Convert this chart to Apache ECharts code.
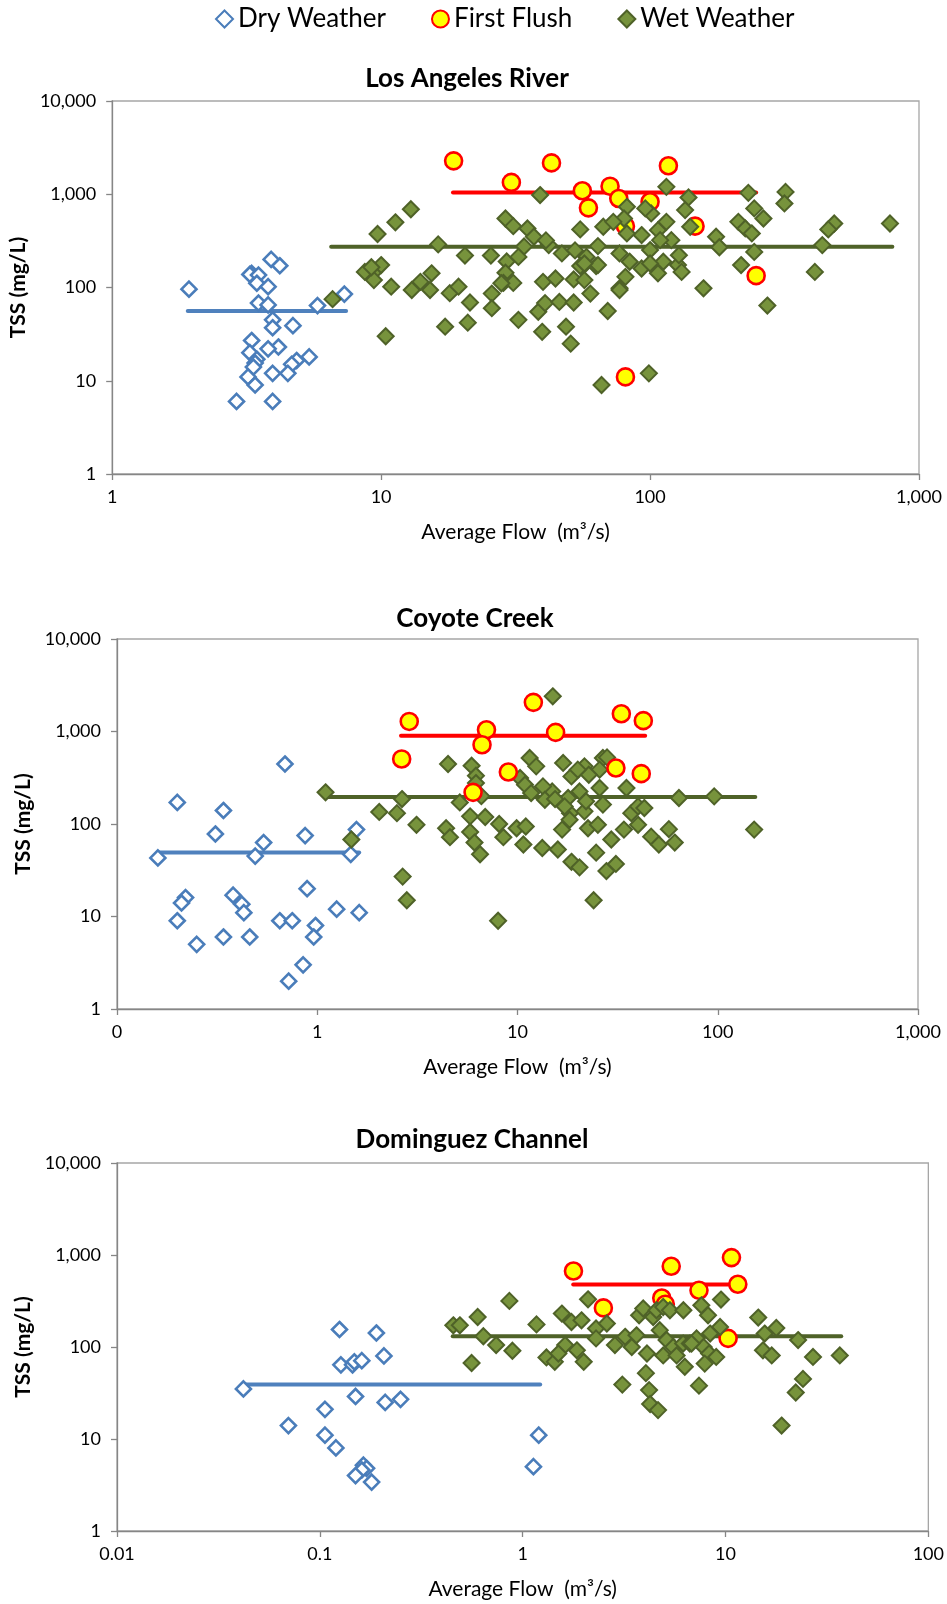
<!DOCTYPE html>
<html>
<head>
<meta charset="utf-8">
<script src="https://cdn.jsdelivr.net/npm/echarts@6/dist/echarts.min.js"></script>
<style>
html,body{margin:0;padding:0;background:#fff;}
#chart{width:947px;height:1604px;}
</style>
</head>
<body>
<div id="chart"></div>
<script>
// ---------------- DATA ----------------
const seriesNames = ['Dry Weather', 'First Flush', 'Wet Weather'];
const chartTitles = ['Los Angeles River', 'Coyote Creek', 'Dominguez Channel'];
const laXTicks = [1, 10, 100, 1000];
const ccXTicks = [0.1, 1, 10, 100, 1000];
const dcXTicks = [0.01, 0.1, 1, 10, 100];
const yTicks = [1, 10, 100, 1000, 10000];

// Los Angeles River  [flow m3/s, TSS mg/L]
const laDry = [[1.93,96],[3.9,200],[4.2,171],[3.3,142],[3.25,138],[3.5,136],[3.45,111],[3.8,102],[3.5,68],[3.8,65],[3.95,45],[3.95,37],[4.7,39],[5.8,64],[7.3,85],[3.3,27],[4.15,23],[3.8,22],[3.25,20],[3.45,17],[3.4,15.5],[3.35,14],[5.4,18],[4.85,16.5],[4.65,15],[4.5,12],[3.95,12],[3.2,11],[3.4,9],[2.9,6],[3.95,6]];
const laFF = [[18.6,2280],[30.5,1340],[43,2170],[56,1090],[59,715],[71,1220],[76.5,900],[100,830],[81,455],[117,2020],[147,455],[81,11],[248,134]];
const laWet = [[6.6,75],[9.7,375],[11.3,500],[12.9,690],[16.3,290],[20.5,220],[25.6,220],[29,550],[31,455],[29.3,190],[29,144],[28.5,112],[31,112],[25.8,86],[25.8,60],[32.4,45],[21,42],[17.3,38],[10.4,30],[21.4,69],[18,87],[19.4,102],[15.4,142],[15.2,94],[14,115],[13,94],[10.9,102],[9.4,147],[10,174],[9.4,120],[8.7,147],[9.2,165],
 [39,980],[35,430],[37,350],[34,275],[32.4,213],[42,285],[41,320],[47,232],[55,420],[52.6,250],[58,213],[64,278],[56,167],[63,170],[28,111],[39.7,33.5],[38.4,55],[40.7,68],[46,70],[52,69],[48.7,38],[50.7,25],[40,115],[44.5,125],[52,122],[57,120],[60,86],[69.6,56],[66,9],[99,12],[77,98],[81,130],[77,232],[84,189],[93,160],[100,252],[93,365],[82,380],[82,733],[80,550],[67,448],[73,506],[101,623],[96,705],[107,412],[115,506],[115,1200],[139,924],[135,676],[141,448],[120,322],[109,322],[112,189],[127,174],[131,147],[107,142],[100,181],[158,98],
 [232,1035],[319,1060],[316,797],[244,705],[264,550],[213,506],[226,430],[239,380],[176,350],[181,270],[244,241],[218,174],[273,64],[437,285],[410,147],[484,486],[460,420],[780,486],[128,222],[77,94],[55,170],[64,174],[57,181]];
// average lines: [from flow, to flow, mean TSS]
const laDryMean = [1.91, 7.41, 56];
const laFFMean = [18.5, 248, 1045];
const laWetMean = [6.52, 796, 273];

// Coyote Creek
const ccDry = [[0.16,43],[0.2,171],[0.34,140],[0.31,78],[0.54,63],[0.49,45],[0.69,445],[0.87,75],[1.57,87],[1.47,47],[0.89,20],[1.25,12],[1.62,11],[0.22,16],[0.21,14],[0.2,9],[0.25,5],[0.38,17],[0.42,13.6],[0.43,11],[0.34,6],[0.46,6],[0.65,9],[0.75,9],[0.98,8],[0.96,6],[0.85,3],[0.72,2]];
const ccFF = [[2.88,1285],[2.64,505],[7.0,1045],[6.65,720],[9.0,365],[6.0,220],[12,2065],[15.5,978],[33,1555],[42.5,1310],[31,403],[41.5,350]];
const ccWet = [[1.1,220],[1.48,68],[2.04,135],[2.5,131],[2.65,186],[3.13,98],[2.67,27],[2.8,15],[8,9],[4.5,445],[5.9,427],[6.2,333],[5.15,171],[5.8,121],[6.9,119],[4.4,90],[4.6,72],[5.8,82],[6.1,63],[6.5,47],[8.1,100],[8.5,72],[6.6,200],[6.2,277],[9.9,90],[11,94],[10.7,60],[13.3,55],[15.9,53],[16.7,87],[18.3,131],[18.6,39],[20.4,34],[24,15],[22.5,90],[24.7,49],[27.8,31],[31,37],[25.2,98],[29.4,68],[34,87],[40,98],[46.5,73],[50.8,60],[57,88],[61,63],[64,191],[96,199],[152,87],[37,131],[40,155],[35,245],[26.7,162],[25.7,245],[26.7,517],[25.7,387],[21.6,420],[22.7,341],[16.9,457],[18.6,327],[20.4,225],[17.9,191],[14.9,225],[13.4,255],[11.5,517],[12.4,420],[10.3,314],[10.9,266],[11.7,216],[13.7,183],[15.4,186],[17.2,155],[18.2,111],[15,2400],[21.6,137],[22,176],[43,149],[28,525],[20,387]];
const ccDryMean = [0.16, 1.62, 49.3];
const ccFFMean = [2.62, 43.4, 901];
const ccWetMean = [1.11, 154, 196];

// Dominguez Channel
const dcDry = [[0.042,35],[0.07,14],[0.106,21],[0.106,11],[0.12,8],[0.125,155],[0.127,64],[0.145,64],[0.148,69],[0.161,71],[0.19,142],[0.207,80],[0.15,29],[0.21,25],[0.25,27],[0.164,5.2],[0.17,4.8],[0.161,4.6],[0.15,4],[0.18,3.4],[1.2,11],[1.13,5]];
const dcFF = [[1.78,670],[2.5,266],[5.4,754],[4.85,341],[5.05,292],[7.4,414],[10.7,937],[11.5,481],[10.3,124]];
const dcWet = [[0.455,172],[0.49,172],[0.6,212],[0.56,67],[0.64,131],[0.74,105],[0.89,91],[0.86,317],[1.17,176],[1.31,77],[1.44,69],[1.56,231],[1.74,187],[2.1,330],[1.95,195],[2.3,159],[2.6,180],[2.3,124],[1.62,105],[1.85,92],[1.5,85],[2.0,69],[2.85,105],[3.2,129],[3.45,100],[3.1,39],[3.75,221],[3.93,262],[3.64,134],[4.1,85],[4.05,52],[4.2,34],[4.25,24],[4.65,20.6],[4.4,212],[4.57,251],[4.93,272],[5.32,251],[4.74,152],[5.12,119],[5.52,100],[6.18,109],[6.67,109],[4.93,81],[5.74,81],[6.3,61],[7.4,38],[6.2,251],[7.6,284],[8.2,221],[9.5,328],[9.4,165],[8.4,140],[7.2,124],[7.8,100],[6.8,109],[8.3,85],[9.0,78],[7.9,66],[14.5,209],[15.6,140],[17.8,161],[15.3,92],[16.9,81],[22.8,119],[27,78],[36.6,81],[24.1,45],[22.2,32],[18.9,14]];
const dcDryMean = [0.042, 1.22, 39.2];
const dcFFMean = [1.775, 11.7, 477];
const dcWetMean = [0.452, 37.2, 131];

// ---------------- STYLE / LAYOUT ----------------
const FONT = 'Lato, "Open Sans", sans-serif';
const panels = [
  {title: chartTitles[0], titleX: 467, titleY: 79, grid: {left: 112, top: 101, width: 807, height: 373},
   xTicks: laXTicks, xFmt: 'int', dry: laDry, ff: laFF, wet: laWet, dm: laDryMean, fm: laFFMean, wm: laWetMean, ffTop: false},
  {title: chartTitles[1], titleX: 475, titleY: 619, grid: {left: 117, top: 639, width: 801, height: 370},
   xTicks: ccXTicks, xFmt: 'int', dry: ccDry, ff: ccFF, wet: ccWet, dm: ccDryMean, fm: ccFFMean, wm: ccWetMean, ffTop: true},
  {title: chartTitles[2], titleX: 472, titleY: 1140, grid: {left: 117, top: 1163, width: 812, height: 368},
   xTicks: dcXTicks, xFmt: 'dec', dry: dcDry, ff: dcFF, wet: dcWet, dm: dcDryMean, fm: dcFFMean, wm: dcWetMean, ffTop: false}
];

function fmtInt(v){ return Math.round(v).toLocaleString('en-US'); }
function fmtDec(v){ return v < 1 ? String(+Number(v).toPrecision(1)) : Math.round(v).toLocaleString('en-US'); }

const grids = [], xAxes = [], yAxes = [], series = [], graphics = [];
const axisLine = {show: true, lineStyle: {color: '#868686', width: 1.3}};
const axisTick = {show: true, length: 6, lineStyle: {color: '#868686', width: 1.3}};

panels.forEach((p, i) => {
  grids.push(Object.assign({show: true, borderColor: '#A6A6A6', borderWidth: 1.3, backgroundColor: '#fff'}, p.grid));
  const decs = Math.round(Math.log10(p.xTicks[p.xTicks.length-1] / p.xTicks[0]));
  xAxes.push({
    gridIndex: i, type: 'log', logBase: 10, min: p.xTicks[0], max: p.xTicks[p.xTicks.length-1], splitNumber: decs,
    axisLine, axisTick, splitLine: {show: false}, minorTick: {show: false},
    axisLabel: {fontFamily: FONT, fontSize: 18, color: '#000', margin: 14, showMinLabel: true, showMaxLabel: true,
      formatter: p.xFmt === 'dec' ? fmtDec : fmtInt},
    name: 'Average Flow  (m³/s)', nameLocation: 'middle', nameGap: 48,
    nameTextStyle: {fontFamily: FONT, fontSize: 21, color: '#000'}
  });
  yAxes.push({
    gridIndex: i, type: 'log', logBase: 10, min: yTicks[0], max: yTicks[yTicks.length-1], splitNumber: 4,
    axisLine, axisTick, splitLine: {show: false}, minorTick: {show: false},
    axisLabel: {fontFamily: FONT, fontSize: 18, color: '#000', margin: 16, showMinLabel: true, showMaxLabel: true, formatter: fmtInt},
    name: 'TSS (mg/L)', nameLocation: 'middle', nameRotate: 90, nameGap: 79,
    nameTextStyle: {fontFamily: FONT, fontSize: 21, fontWeight: 'bold', color: '#000'}
  });
  const lineSeries = (nm, m, color) => ({
    name: nm, type: 'line', xAxisIndex: i, yAxisIndex: i, data: [[m[0], m[2]], [m[1], m[2]]],
    showSymbol: false, symbol: 'none', silent: true, z: 2,
    lineStyle: {color: color, width: 4, cap: 'round'}, emphasis: {disabled: true}
  });
  series.push(lineSeries('dryMean' + i, p.dm, '#4F81BD'));
  series.push(lineSeries('wetMean' + i, p.wm, '#4F6228'));
  series.push(lineSeries('ffMean' + i, p.fm, '#FF0000'));
  series.push({
    name: seriesNames[0], type: 'scatter', xAxisIndex: i, yAxisIndex: i, data: p.dry, symbol: 'diamond', symbolSize: 15, z: 3,
    itemStyle: {color: '#FFFFFF', borderColor: '#4A7DBA', borderWidth: 2.6, opacity: 1}
  });
  series.push({
    name: seriesNames[1], type: 'scatter', xAxisIndex: i, yAxisIndex: i, data: p.ff, symbol: 'circle', symbolSize: 17, z: p.ffTop ? 5 : 4,
    itemStyle: {color: '#FFFF00', borderColor: '#FF0000', borderWidth: 2.6, opacity: 1}
  });
  series.push({
    name: seriesNames[2], type: 'scatter', xAxisIndex: i, yAxisIndex: i, data: p.wet, symbol: 'diamond', symbolSize: 16, z: p.ffTop ? 4 : 5,
    itemStyle: {color: '#77933C', borderColor: '#4F6228', borderWidth: 2, opacity: 1}
  });
  graphics.push({
    type: 'text', x: p.titleX, y: p.titleY, z: 10,
    style: {text: p.title, font: 'bold 26px ' + FONT, fill: '#000', align: 'center', verticalAlign: 'middle',
            textAlign: 'center', textVerticalAlign: 'middle'}
  });
});

const chart = echarts.init(document.getElementById('chart'), null, {renderer: 'canvas'});
chart.setOption({
  animation: false,
  backgroundColor: '#fff',
  legend: {
    data: seriesNames, left: 210, top: 1, itemGap: 45, itemWidth: 17, itemHeight: 17,
    textStyle: {fontFamily: FONT, fontSize: 26, color: '#000'}
  },
  grid: grids, xAxis: xAxes, yAxis: yAxes, series: series, graphic: graphics
});
</script>
</body>
</html>
